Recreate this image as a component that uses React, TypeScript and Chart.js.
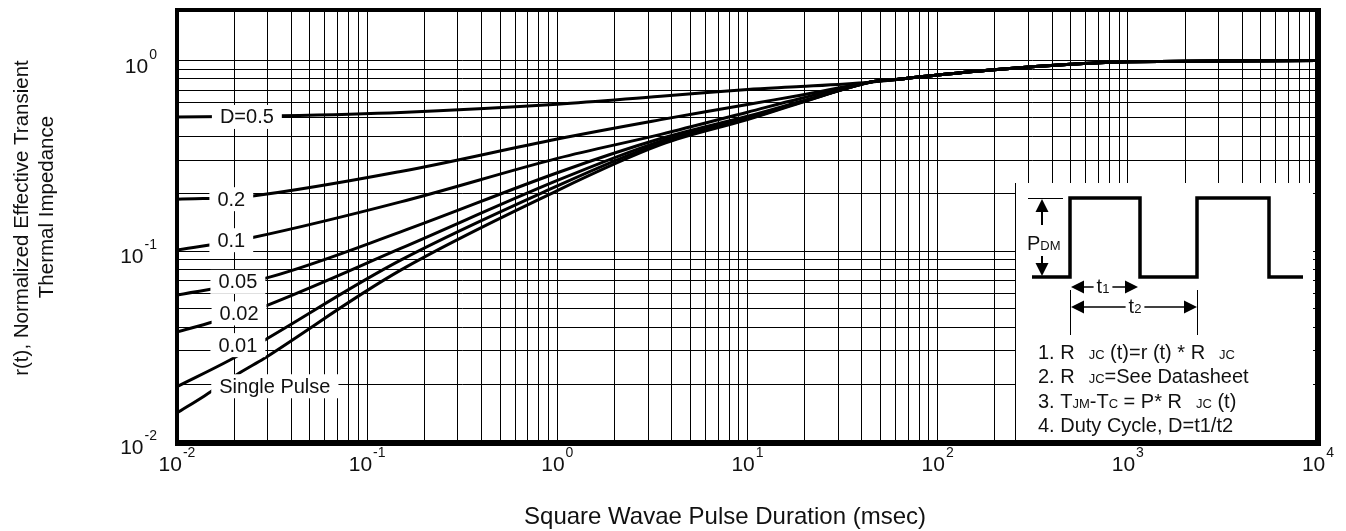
import React, { useEffect, useRef } from "react";
import { Chart, registerables } from "chart.js";

Chart.register(...registerables);

const FONT = '"Liberation Sans", Arial, Helvetica, sans-serif';
const INK = "#111";

// Pulse duration (msec) and normalized r(t)
const tD05 = [0.01, 0.035, 0.15, 1, 3.5, 10, 19, 44, 64, 100, 213, 500, 1000, 10000];
const rD05 = [0.506, 0.513, 0.534, 0.59, 0.65, 0.705, 0.73, 0.77, 0.8, 0.84, 0.9, 0.955, 0.985, 1.0];

const tD02 = [0.01, 0.025, 0.15, 1, 3.5, 10, 19, 44, 64, 100, 213, 500, 1000, 10000];
const rD02 = [0.1875, 0.195, 0.262, 0.388, 0.49, 0.588, 0.658, 0.77, 0.8, 0.84, 0.9, 0.955, 0.985, 1.0];

const tD01 = [0.01, 0.025, 0.15, 1, 3.5, 10, 19, 44, 64, 100, 213, 500, 1000, 10000];
const rD01 = [0.1014, 0.118, 0.1815, 0.307, 0.41, 0.536, 0.632, 0.77, 0.8, 0.84, 0.9, 0.955, 0.985, 1.0];

const tD005 = [0.01, 0.031, 0.15, 1, 3.5, 10, 19, 44, 64, 100, 213, 500, 1000, 10000];
const rD005 = [0.0589, 0.0734, 0.1264, 0.258, 0.39, 0.51, 0.61, 0.77, 0.8, 0.84, 0.9, 0.955, 0.985, 1.0];

const tD002 = [0.01, 0.0156, 0.03, 0.15, 1, 3.5, 10, 19, 44, 64, 100, 213, 500, 1000, 10000];
const rD002 = [0.0378, 0.0427, 0.0522, 0.1034, 0.235, 0.378, 0.5, 0.607, 0.77, 0.8, 0.84, 0.9, 0.955, 0.985, 1.0];

const tD001 = [0.01, 0.019, 0.03, 0.15, 1, 3.5, 10, 19, 44, 64, 100, 213, 500, 1000, 10000];
const rD001 = [0.0195, 0.0269, 0.035, 0.0898, 0.22, 0.37, 0.495, 0.603, 0.77, 0.8, 0.84, 0.9, 0.955, 0.985, 1.0];

const tSingle = [0.01, 0.014, 0.0217, 0.0287, 0.15, 1, 3.5, 10, 19, 44, 64, 100, 213, 500, 1000, 10000];
const rSingle = [0.0142, 0.0175, 0.0233, 0.0274, 0.0796, 0.208, 0.362, 0.49, 0.6, 0.77, 0.8, 0.84, 0.9, 0.955, 0.985, 1.0];

const seriesNames = ["D=0.5", "0.2", "0.1", "0.05", "0.02", "0.01", "Single Pulse"];
const seriesT = [tD05, tD02, tD01, tD005, tD002, tD001, tSingle];
const seriesR = [rD05, rD02, rD01, rD005, rD002, rD001, rSingle];

// curve label anchors (data coordinates)
const labelT = [0.0233, 0.0193, 0.0193, 0.0209, 0.0212, 0.0209, 0.0327];
const labelR = [0.506, 0.1875, 0.1143, 0.0691, 0.0472, 0.0322, 0.0196];

// axis decades (tick labels 10^n)
const xExponents = ["-2", "-1", "0", "1", "2", "3", "4"];
const yExponents = ["-2", "-1", "0"];

const xTitle = "Square Wavae Pulse Duration (msec)";
const yTitle1 = "r(t), Normalized Effective Transient";
const yTitle2 = "Thermal Impedance";

function gridValues(e0: number, e1: number): number[] {
  const out: number[] = [];
  for (let e = e0; e < e1; e++) {
    for (let m = 1; m <= 9; m++) out.push(parseFloat((m * Math.pow(10, e)).toPrecision(3)));
  }
  out.push(Math.pow(10, e1));
  return out;
}
const xGrid = gridValues(-2, 4);
const yGrid = gridValues(-2, 0);

function drawPow(ctx: CanvasRenderingContext2D, exp: string, x: number, baseline: number, align: string) {
  ctx.font = `21px ${FONT}`;
  const wb = ctx.measureText("10").width;
  ctx.font = `14px ${FONT}`;
  const we = ctx.measureText(exp).width;
  const total = wb + we + 1;
  const x0 = align === "center" ? x - total / 2 : x - total;
  ctx.textAlign = "left";
  ctx.textBaseline = "alphabetic";
  ctx.font = `21px ${FONT}`;
  ctx.fillText("10", x0, baseline);
  ctx.font = `14px ${FONT}`;
  ctx.fillText(exp, x0 + wb + 1, baseline - 14);
}

type Run = [string, number] | number;
function drawRuns(ctx: CanvasRenderingContext2D, runs: Run[], x: number, baseline: number) {
  let cx = x;
  ctx.textAlign = "left";
  ctx.textBaseline = "alphabetic";
  for (const r of runs) {
    if (typeof r === "number") {
      cx += r;
      continue;
    }
    ctx.font = `${r[1]}px ${FONT}`;
    ctx.fillText(r[0], cx, baseline);
    cx += ctx.measureText(r[0]).width;
  }
  return cx;
}
function runsWidth(ctx: CanvasRenderingContext2D, runs: Run[]) {
  let w = 0;
  for (const r of runs) {
    if (typeof r === "number") w += r;
    else {
      ctx.font = `${r[1]}px ${FONT}`;
      w += ctx.measureText(r[0]).width;
    }
  }
  return w;
}

function arrowHead(ctx: CanvasRenderingContext2D, tx: number, ty: number, dir: string) {
  const len = 13;
  const half = 6.5;
  ctx.beginPath();
  ctx.moveTo(tx, ty);
  if (dir === "up") {
    ctx.lineTo(tx - half, ty + len);
    ctx.lineTo(tx + half, ty + len);
  } else if (dir === "down") {
    ctx.lineTo(tx - half, ty - len);
    ctx.lineTo(tx + half, ty - len);
  } else if (dir === "left") {
    ctx.lineTo(tx + len, ty - half);
    ctx.lineTo(tx + len, ty + half);
  } else {
    ctx.lineTo(tx - len, ty - half);
    ctx.lineTo(tx - len, ty + half);
  }
  ctx.closePath();
  ctx.fill();
}

function line(ctx: CanvasRenderingContext2D, x1: number, y1: number, x2: number, y2: number, w: number) {
  ctx.lineWidth = w;
  ctx.beginPath();
  ctx.moveTo(x1, y1);
  ctx.lineTo(x2, y2);
  ctx.stroke();
}

const decor = {
  id: "decor",
  afterDatasetsDraw(chart: any) {
    const { ctx, chartArea: a, scales } = chart;
    const xs = scales.x;
    const ys = scales.y;
    ctx.save();
    ctx.fillStyle = INK;
    ctx.strokeStyle = "#000";

    // curve labels with white backgrounds
    ctx.font = `20px ${FONT}`;
    ctx.textBaseline = "middle";
    ctx.textAlign = "center";
    seriesNames.forEach((name, i) => {
      const px = xs.getPixelForValue(labelT[i]);
      const py = ys.getPixelForValue(labelR[i]);
      const w = ctx.measureText(name).width;
      ctx.fillStyle = "#fff";
      ctx.fillRect(px - w / 2 - 8, py - 12, w + 16, 24);
      ctx.fillStyle = INK;
      ctx.fillText(name, px, py + 1);
    });

    // inset with pulse diagram and notes
    const L = a.right - 303;
    const T = a.top + 173;
    ctx.fillStyle = "#fff";
    ctx.fillRect(L, T, a.right - 5 - L, a.bottom - T);
    ctx.strokeStyle = "#000";
    ctx.fillStyle = "#000";
    line(ctx, L + 0.5, T, L + 0.5, a.bottom, 1);

    const low = T + 94;
    const high = T + 15;
    const r1 = L + 55;
    const f1 = L + 125;
    const r2 = L + 182;
    const f2 = L + 254;
    ctx.lineWidth = 3.5;
    ctx.lineJoin = "miter";
    ctx.beginPath();
    ctx.moveTo(L + 17, low);
    ctx.lineTo(r1, low);
    ctx.lineTo(r1, high);
    ctx.lineTo(f1, high);
    ctx.lineTo(f1, low);
    ctx.lineTo(r2, low);
    ctx.lineTo(r2, high);
    ctx.lineTo(f2, high);
    ctx.lineTo(f2, low);
    ctx.lineTo(L + 288, low);
    ctx.stroke();

    // P_DM arrow
    const px = L + 27;
    line(ctx, L + 13, high + 0.5, L + 48, high + 0.5, 1);
    arrowHead(ctx, px, high + 1, "up");
    line(ctx, px, high + 12, px, T + 42, 2);
    line(ctx, px, T + 73, px, low - 12, 2);
    arrowHead(ctx, px, low - 1, "down");
    ctx.fillStyle = INK;
    drawRuns(ctx, [["P", 20], ["DM", 13]], L + 12, T + 67);

    // t1 / t2 dimension arrows
    ctx.fillStyle = "#000";
    line(ctx, r1 + 0.5, T + 107, r1 + 0.5, T + 152, 1);
    line(ctx, r2 + 0.5, T + 107, r2 + 0.5, T + 152, 1);

    const dim = (y: number, x1: number, x2: number, cx: number, sub: string, base: number) => {
      const runs: Run[] = [["t", 20], [sub, 13]];
      const w = runsWidth(ctx, runs);
      arrowHead(ctx, x1, y, "left");
      arrowHead(ctx, x2, y, "right");
      line(ctx, x1 + 10, y, cx - w / 2 - 3, y, 1.5);
      line(ctx, cx + w / 2 + 3, y, x2 - 10, y, 1.5);
      ctx.fillStyle = INK;
      drawRuns(ctx, runs, cx - w / 2, base);
      ctx.fillStyle = "#000";
    };
    dim(T + 104, r1 + 1, f1 - 2, L + 88, "1", T + 110);
    dim(T + 124, r1 + 1, r2, L + 120, "2", T + 130);

    // notes
    ctx.fillStyle = INK;
    const notes: Run[][] = [
      [["1. R", 20], 14, ["JC", 13], [" (t)=r (t) * R", 20], 14, ["JC", 13]],
      [["2. R", 20], 14, ["JC", 13], ["=See Datasheet", 20]],
      [["3. T", 20], ["JM", 13], ["-T", 20], ["C", 13], [" = P* R", 20], 14, ["JC", 13], [" (t)", 20]],
      [["4. Duty Cycle, D=t1/t2", 20]],
    ];
    notes.forEach((runs, i) => drawRuns(ctx, runs, L + 23, T + 176 + i * 24.3));
    ctx.restore();
  },
  afterDraw(chart: any) {
    const { ctx, chartArea: a, scales } = chart;
    const xs = scales.x;
    const ys = scales.y;
    ctx.save();
    ctx.strokeStyle = "#000";
    // thick frame
    line(ctx, a.left, a.top - 2, a.left, a.bottom + 3, 4);
    line(ctx, a.left - 2, a.top, a.right + 3, a.top, 4);
    line(ctx, a.right, a.top - 2, a.right, a.bottom + 3, 6);
    line(ctx, a.left - 2, a.bottom + 1, a.right + 3, a.bottom + 1, 6);

    ctx.fillStyle = INK;
    xExponents.forEach((e) => {
      const x = xs.getPixelForValue(Math.pow(10, Number(e)));
      drawPow(ctx, e, x, a.bottom + 29, "center");
    });
    yExponents.forEach((e) => {
      const y = ys.getPixelForValue(Math.pow(10, Number(e)));
      drawPow(ctx, e, a.left - 20, y + 12, "right");
    });

    // axis titles
    ctx.textAlign = "center";
    ctx.textBaseline = "middle";
    ctx.font = `24px ${FONT}`;
    ctx.fillText(xTitle, 725, a.bottom + 75);

    ctx.font = `20.5px ${FONT}`;
    ctx.save();
    ctx.translate(22, 218);
    ctx.rotate(-Math.PI / 2);
    ctx.fillText(yTitle1, 0, 0);
    ctx.restore();
    ctx.save();
    ctx.translate(47, 207);
    ctx.rotate(-Math.PI / 2);
    ctx.fillText(yTitle2, 0, 0);
    ctx.restore();
    ctx.restore();
  },
};

export default function App() {
  const ref = useRef<HTMLCanvasElement | null>(null);
  useEffect(() => {
    const canvas = ref.current;
    if (!canvas) return;
    const chart = new Chart(canvas, {
      type: "line",
      data: {
        datasets: seriesNames.map((name, i) => ({
          label: name,
          data: seriesT[i].map((t, j) => ({ x: t, y: seriesR[i][j] })),
          borderColor: "#000",
          borderWidth: 3,
          pointRadius: 0,
          fill: false,
          tension: 0.35,
        })),
      },
      options: {
        responsive: false,
        animation: false,
        devicePixelRatio: 1,
        layout: { padding: { left: 177, right: 28, top: 10, bottom: 89 } },
        plugins: {
          legend: { display: false },
          tooltip: { enabled: false },
          title: { display: false },
        },
        scales: {
          x: {
            type: "logarithmic",
            min: 0.01,
            max: 10000,
            afterBuildTicks: (s: any) => {
              s.ticks = xGrid.map((v) => ({ value: v }));
            },
            afterFit: (s: any) => {
              s.height = 0;
            },
            ticks: { display: false },
            grid: { color: "#000", lineWidth: 1, drawTicks: false },
            border: { display: false },
          },
          y: {
            type: "logarithmic",
            min: 0.01,
            max: 1.84,
            afterBuildTicks: (s: any) => {
              s.ticks = yGrid.map((v) => ({ value: v }));
            },
            afterFit: (s: any) => {
              s.width = 0;
            },
            ticks: { display: false },
            grid: { color: "#000", lineWidth: 1, drawTicks: false },
            border: { display: false },
          },
        },
      },
      plugins: [decor],
    });
    return () => chart.destroy();
  }, []);
  return (
    <div style={{ position: "absolute", left: 0, top: 0, width: 1346, height: 531, background: "#fff" }}>
      <canvas ref={ref} width={1346} height={531} style={{ width: 1346, height: 531, display: "block" }} />
    </div>
  );
}
